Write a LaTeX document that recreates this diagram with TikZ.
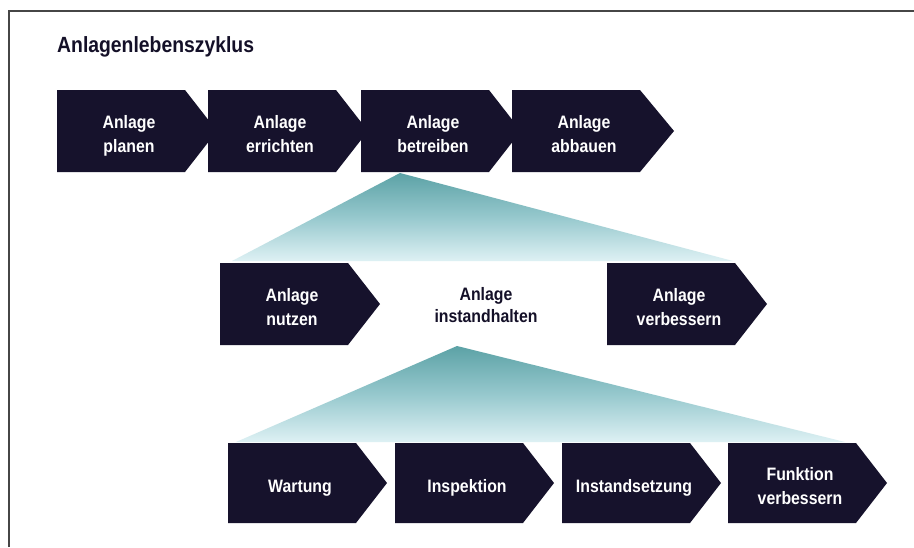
\documentclass[tikz,border=0pt]{standalone}
\usepackage{fontspec}
\setmainfont{Liberation Sans}
\newfontfamily\boxfont[FakeStretch=0.88]{Liberation Sans Bold}
\definecolor{boxc}{RGB}{22,18,44}
\definecolor{tealtop}{RGB}{92,162,166}
\definecolor{tealmid}{RGB}{150,200,205}
\definecolor{tealbot}{RGB}{222,241,244}
\definecolor{framec}{RGB}{70,70,70}
\newcommand\twol[2]{\rule{0pt}{14pt}#1\\#2\rule[-4pt]{0pt}{4pt}}
\newcommand\onel[1]{\rule{0pt}{14pt}#1\rule[-4pt]{0pt}{4pt}}
\newcommand\chev[6]{%
  \fill[boxc] (#2,#3) -- ++(128,0) -- ++(#5,#4/2) -- ++(-#5,#4/2) -- ++(-128,0) -- cycle;
  \node[boxtext] (#1) at (#2+72,#3+#4/2+4) {#6};
}
\tikzset{
  boxtext/.style={text=white, font=\boxfont\fontsize{18}{24}\selectfont, align=center, inner sep=0pt},
  midtext/.style={text=boxc!90!black, font=\boxfont\fontsize{18}{22}\selectfont, align=center, inner sep=0pt},
  titletext/.style={text=boxc!90!black, font=\boxfont\fontsize{22}{26}\selectfont, inner sep=0pt},
  fan/.style={top color=tealtop, bottom color=tealbot, middle color=tealmid, draw=none}
}
\begin{document}
\begin{tikzpicture}[x=1pt,y=-1pt]
\useasboundingbox (0,0) rectangle (914,547);
\fill[white] (0,0) rectangle (914,547);
% frame
\coordinate (fbl) at (9,547);
\coordinate (ftl) at (9,11);
\coordinate (ftr) at (914,11);
\draw[framec, line width=1.3pt] (fbl) -- (ftl) -- (ftr);
% title
\node[titletext, anchor=base west] (title) at (57,52) {Anlagenlebenszyklus};
% fans
\coordinate (a1) at (400,173);
\coordinate (b1l) at (232,261);
\coordinate (b1r) at (733,261);
\shade[fan] (a1) -- (b1l) -- (b1r) -- cycle;
\coordinate (a2) at (457,346);
\coordinate (b2l) at (236,442);
\coordinate (b2r) at (845,442);
\shade[fan] (a2) -- (b2l) -- (b2r) -- cycle;
% top row
\chev{planen}{57}{90}{82}{32}{\twol{Anlage}{planen}}
\chev{errichten}{208}{90}{82}{32}{\twol{Anlage}{errichten}}
\chev{betreiben}{361}{90}{82}{32}{\twol{Anlage}{betreiben}}
\chev{abbauen}{512}{90}{82}{34}{\twol{Anlage}{abbauen}}
% middle row
\chev{nutzen}{220}{263}{82}{32}{\twol{Anlage}{nutzen}}
\node[midtext] (instand) at (486,306) {\twol{Anlage}{instandhalten}};
\chev{verbessern}{607}{263}{82}{32}{\twol{Anlage}{verbessern}}
% bottom row
\chev{wartung}{228}{443}{80}{31}{\onel{Wartung}}
\chev{inspektion}{395}{443}{80}{31}{\onel{Inspektion}}
\chev{instandsetzung}{562}{443}{80}{31}{\onel{Instandsetzung}}
\chev{funktion}{728}{443}{80}{31}{\twol{Funktion}{verbessern}}
\end{tikzpicture}
\end{document}
